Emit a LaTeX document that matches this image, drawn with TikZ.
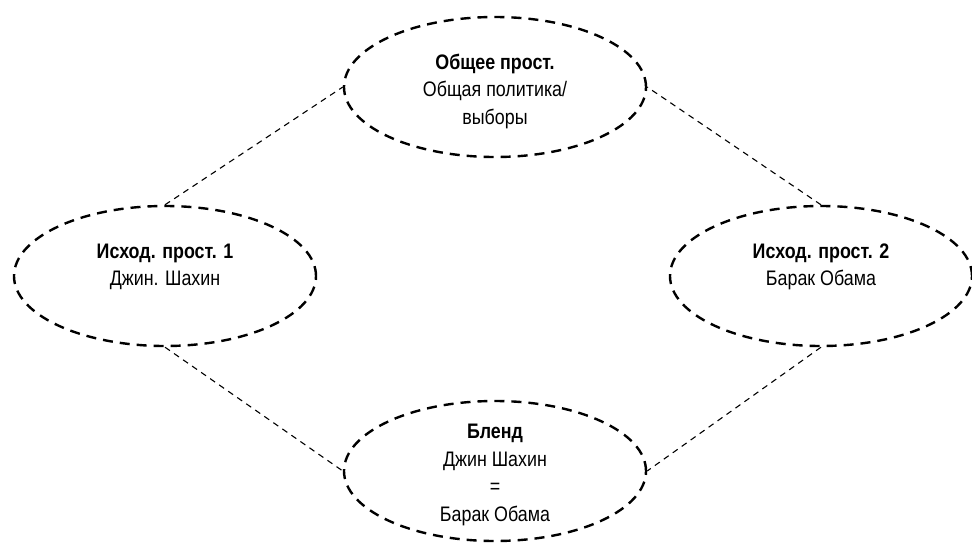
\documentclass[tikz,border=0pt]{standalone}
\usepackage{fontspec}
\setmainfont{Liberation Sans}[FakeStretch=0.85]
\usetikzlibrary{shapes.geometric}
\begin{document}
\begin{tikzpicture}[x=1pt,y=-1pt,
  blob/.style={ellipse,draw,line width=2.4pt,dash pattern=on 10pt off 7pt,minimum width=302pt,minimum height=140pt,inner sep=0pt},
  link/.style={line width=1.1pt,dash pattern=on 6pt off 5pt},
  txt/.style={align=center,font=\fontsize{21}{27.5}\selectfont,inner sep=0pt}]
\useasboundingbox (0,0) rectangle (972,542);
\node[blob] (T) at (495,87) {};
\node[blob] (L) at (165,276) {};
\node[blob] (R) at (821,276) {};
\node[blob] (B) at (495,471) {};
\node[txt] (Tt) at (495,91) {\textbf{Общее прост.}\\Общая политика/\\выборы};
\node[txt] (Lt) at (165,267) {\textbf{Исход. прост. 1}\\Джин. Шахин};
\node[txt] (Rt) at (821,267) {\textbf{Исход. прост. 2}\\Барак Обама};
\node[txt] (Bt) at (495,475) {\textbf{Бленд}\\Джин Шахин\\=\\Барак Обама};
\draw[link] (L.north) -- (T.west);
\draw[link] (R.north) -- (T.east);
\draw[link] (L.south) -- (B.west);
\draw[link] (R.south) -- (B.east);
\end{tikzpicture}
\end{document}
